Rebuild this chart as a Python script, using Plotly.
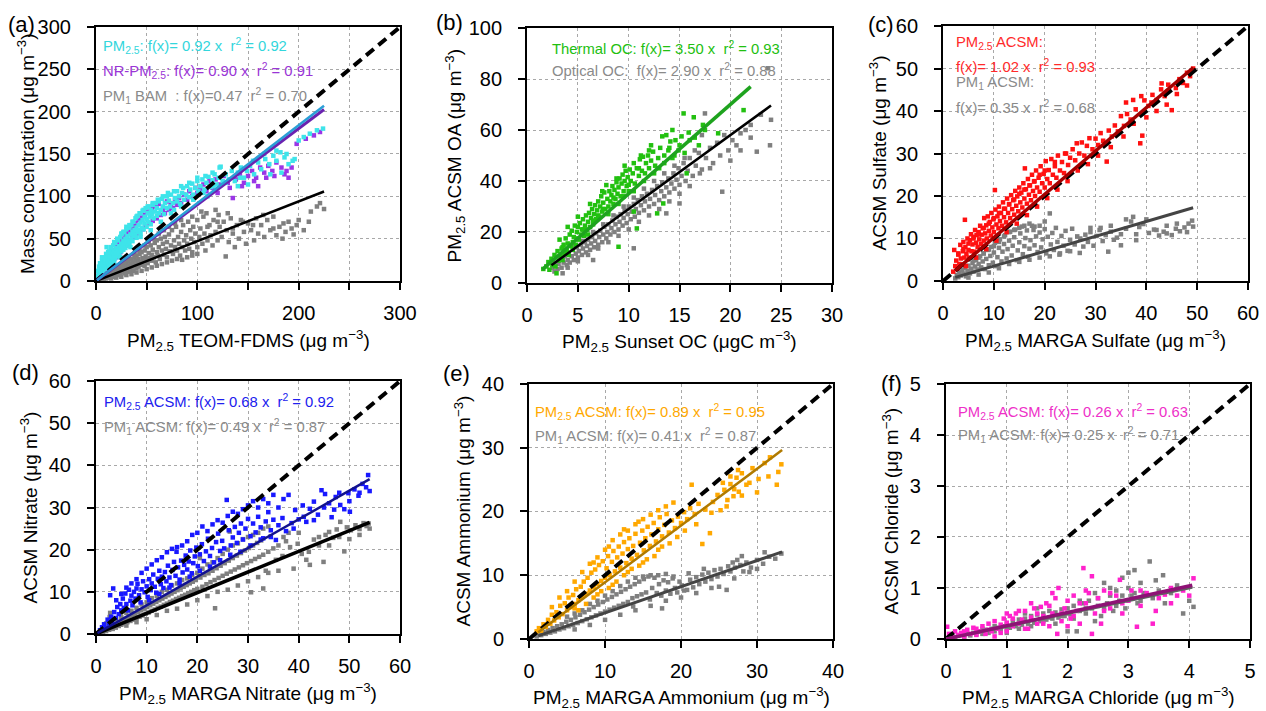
import plotly.graph_objects as go

# ---------------- DATA ----------------
# (a) Mass concentration vs PM2.5 TEOM-FDMS
A_PM25 = [(1,6),(2,12),(3,9),(3,17),(4,21),(4,13),(5,11),(5,19),(6,15),(6,24),(7,12),(7,20),(8,17),(8,27),(9,14),(9,22),
          (10,19),(10,32),(10.5,40),(11,16),(11,26),(12,22),(12,30),(13,18),(13,35),(14,25),(14,29),(15,21),(15,38),(16,28),
          (16,33),(17,24),(17,42),(18,30),(18,36),(19,27),(19,45),(20,33),(20,39),(21,29),(22,36),(22,48),(23,41),(23,32),
          (24,38),(24,52),(25,35),(25,44),(26,40),(26,56),(27,37),(27,47),(28,43),(28,58),(29,39),(29,50),(30,46),(30,61),
          (31,42),(31,53),(32,48),(33,45),(33,63),(34,55),(35,50),(35,66),(36,47),(36,58),(37,53),(37,70),(38,60),(39,55),
          (39,74),(40,51),(40,63),(41,58),(41,77),(42,66),(43,60),(43,80),(44,56),(44,69),(45,63),(46,72),(46,83),(47,61),
          (48,68),(48,76),(49,86),(50,64),(50,73),(51,80),(52,70),(52,88),(53,76),(54,67),(54,84),(55,79),(56,90),(57,74),
          (58,82),(59,92),(60,77),(60,86),(62,80),(62,94),(64,84),(65,97),(66,88),(67,79),(68,92),(70,86),(70,100),(72,95),
          (73,88),(74,102),(76,92),(77,84),(78,98),(80,94),(80,106),(82,100),(83,91),(85,104),(86,110),(87,96),(89,102),
          (90,112),(92,99),(93,108),(95,115),(96,102),(98,110),(100,118),(101,106),(103,112),(105,120),(107,108),(109,116),
          (111,123),(113,111),(115,119),(117,126),(119,114),(121,122),(123,135),(125,118),(128,126),(131,120),(134,130),
          (137,118),(140,128),(143,134),(146,122),(149,130),(152,136),(156,126),(160,140),(163,132),(167,144),(171,138),
          (175,148),(178,142),(182,152),(186,146),(190,138),(194,142),(200,166),(205,170),(211,174),(218,178),(224,180),
          (6,28),(9,27),(12,34),(15,40),(18,46),(21,50),(25,56),(27,58),(30,64),(33,66),(36,70),(40,76),(44,80),(47,84),
          (51,88),(56,92),(61,96),(66,100),(71,104),(77,106),(84,112),(92,116),(100,122),(108,124),(115,128),(122,134),
          (18,22),(24,28),(34,40),(44,52),(54,60),(64,70),(74,80),(84,88),(96,96),(106,104),(116,112),(128,116),(142,122),
          (155,142),(166,150),(178,154),(188,150),(196,144),(183,128),(172,126),(150,114),(140,112),(110,100)]
A_NRPM25 = [(2,6),(3,10),(4,8),(5,14),(6,10),(7,17),(8,13),(9,19),(10,14),(11,22),(12,17),(13,26),(14,20),(15,30),(16,23),
            (17,33),(18,26),(19,36),(20,28),(21,40),(22,31),(23,44),(24,34),(25,47),(26,37),(27,50),(28,40),(29,54),(30,42),
            (31,57),(32,45),(33,59),(34,48),(35,62),(36,51),(37,65),(38,53),(39,68),(40,56),(42,72),(43,58),(45,75),(46,61),
            (48,78),(49,64),(51,82),(53,68),(55,85),(56,71),(58,88),(60,74),(62,91),(64,78),(66,84),(68,80),(70,94),(72,84),
            (74,90),(76,86),(78,96),(80,90),(82,98),(84,92),(87,102),(90,96),(92,106),(95,100),(98,110),(100,104),(103,108),
            (106,114),(109,106),(112,118),(115,110),(118,120),(122,114),(126,124),(130,116),(135,98),(138,120),(142,126),
            (146,116),(150,124),(154,130),(158,122),(162,134),(166,128),(170,136),(174,130),(178,140),(183,134),(188,130),
            (193,134),(198,162),(207,168),(215,172),(221,176),(120,104),(132,110),(144,112),(156,118),(168,122),(176,124),
            (186,126),(190,122),(160,112)]
A_PM1BAM = [(2,1),(3,3),(4,2),(5,4),(5,1),(6,3),(7,5),(8,2),(8,6),(9,4),(10,7),(10,3),(11,5),(12,8),(12,4),(13,6),(14,10),
            (14,5),(15,8),(16,6),(16,11),(17,9),(18,5),(18,13),(19,10),(20,7),(20,15),(21,12),(22,8),(22,17),(23,11),(24,14),
            (24,7),(25,18),(26,10),(26,15),(27,20),(28,12),(28,17),(29,9),(30,22),(30,14),(31,18),(32,11),(32,24),(33,16),
            (34,20),(34,13),(35,26),(36,17),(36,22),(37,12),(38,28),(38,19),(39,24),(40,15),(40,30),(41,21),(42,26),(42,17),
            (43,32),(44,22),(45,19),(45,34),(46,27),(47,23),(48,36),(48,18),(49,29),(50,25),(50,40),(51,21),(52,33),(53,27),
            (54,42),(55,24),(55,31),(56,37),(57,28),(58,45),(59,22),(60,34),(60,48),(61,30),(62,40),(63,26),(64,50),(65,36),
            (66,44),(67,31),(68,52),(69,38),(70,28),(70,46),(72,55),(73,35),(74,42),(75,60),(76,32),(77,48),(78,40),(79,64),
            (80,36),(81,52),(82,44),(83,30),(84,58),(85,40),(86,66),(87,48),(88,36),(89,54),(90,44),(91,70),(92,38),(93,60),
            (94,50),(95,34),(96,64),(97,46),(98,56),(100,40),(100,72),(102,52),(103,62),(105,44),(106,76),(107,56),(108,36),
            (109,80),(110,48),(112,66),(113,54),(115,42),(116,72),(118,58),(120,48),(121,78),(122,64),(124,52),(126,70),
            (128,29),(129,60),(131,46),(133,74),(135,56),(137,40),(139,66),(141,50),(143,72),(146,58),(148,44),(150,68),
            (153,60),(156,48),(158,74),(160,56),(163,66),(166,52),(169,72),(172,60),(175,76),(178,54),(181,64),(184,50),
            (187,58),(190,70),(193,62),(198,66),(205,60),(212,82),(218,88),(221,92),(225,85),
            (15,3),(20,4),(25,5),(30,7),(35,8),(40,10),(45,12),(50,14),(55,16),(60,18),(65,20),(70,22),(75,24),(80,26),
            (85,25),(90,28),(95,30),(100,32),(28,22),(33,26),(38,32),(43,36),(48,42),(52,46),(57,50),(62,56),(67,60),(72,64),
            (78,68),(84,72),(95,76),(104,82),(118,84),(130,80),(110,64),(120,70),(135,62),(145,70),(155,66),(165,78),
            (175,62),(185,68),(195,55),(200,72),(210,70)]
A_SLOPES = {"PM25": 0.92, "NRPM25": 0.90, "PM1BAM": 0.47}
A_FIT_X = [1, 225]

# (b) PM2.5 ACSM OA vs Sunset OC
B_THERMAL = [(1.6,5.5),(1.9,6.5),(2.1,8.2),(2.2,5.2),(2.4,9.5),(2.5,7),(2.7,11),(2.8,6.5),(2.9,3.8),(3,12.5),(3.1,8.8),
             (3.2,17),(3.3,10.5),(3.4,13.5),(3.5,9),(3.6,15),(3.7,11.5),(3.8,17.5),(3.9,13),(4,15.5),(4.1,11),(4.2,19),
             (4.3,14.5),(4.4,20.5),(4.5,16),(4.6,18),(4.7,22.5),(4.8,15),(4.9,20),(5,22),(5.1,17),(5.2,23.5),(5.3,19),
             (5.4,21),(5.5,25),(5.6,18.5),(5.7,22.5),(5.8,26.5),(5.9,21),(6,24),(6.1,27.5),(6.2,22),(6.3,25.5),(6.4,29),
             (6.5,23),(6.6,27),(6.7,30.5),(6.8,25),(6.9,28.5),(7,32),(7.1,26),(7.2,30),(7.3,34),(7.4,28),(7.5,31.5),
             (7.6,35.5),(7.7,29),(7.8,38.4),(7.9,33),(8,30),(8.1,36),(8.2,32),(8.3,34.5),(8.4,38),(8.5,31),(8.6,36.5),
             (8.7,33),(8.8,39.5),(8.9,35),(9,14.2),(9,37.5),(9.1,41),(9.2,34),(9.3,39),(9.4,42.5),(9.5,36),(9.6,40),
             (9.7,44),(9.8,38),(9.9,41.5),(10,36),(10.1,44.5),(10.2,40),(10.4,43),(10.5,28),(10.5,47),(10.6,39),(10.8,45),
             (10.8,21.4),(11,42),(11.1,48.5),(11.3,44),(11.4,49.5),(11.6,43),(11.7,47),(11.9,50),(12,45),(12.2,48),
             (12.4,51.5),(12.6,46),(12.8,27.3),(12.9,49),(13.1,53),(13.4,31.2),(13.5,50),(13.7,58),(13.9,52),(14.1,55.5),
             (14.3,49),(14.6,56),(14.9,52),(15.2,57.5),(15.4,66.5),(15.7,43),(15.9,59),(16.4,65),(16.9,54),(17.3,62),
             (18.8,58.7),(21.3,67.8),
             (3.5,14),(4.5,13),(5,17.5),(5.5,21),(6,19),(6.5,24.5),(7,26.5),(7.5,29),(8,27),(8.5,33.5),(9,31),(9.5,34),
             (10,38.5),(10.5,36),(11,45),(11.5,40),(12,52),(12.5,43),(13,45),(13.5,47),(14,53),(14.5,50),(15,54),
             (15.5,51),(16,56),(16.5,57),(17.5,60),(6.2,31),(7.4,36),(8.8,41),(9.6,46),(11.2,50),(12.2,54),(4,22),(5,26),
             (13.3,57.5),(14.3,60)]
B_OPTICAL = [(2.5,6),(2.7,4.5),(2.8,8),(3,5.5),(3.1,7.5),(3.3,9.5),(3.4,6),(3.5,3.8),(3.6,8),(3.7,10.5),(3.9,7),(4,9),
             (4.1,12),(4.2,8),(4.4,10.5),(4.5,13),(4.6,9),(4.8,11.5),(4.9,14),(5,10),(5.1,12.5),(5.3,15),(5.4,11),(5.5,13.5),
             (5.7,16),(5.8,12),(5.9,14.5),(6,17),(6.2,13),(6.3,15.5),(6.4,18),(6.5,9),(6.6,14),(6.7,16.5),(6.8,19.5),(7,15),
             (7.1,18),(7.2,20.5),(7.4,16),(7.5,19),(7.6,22),(7.8,17.5),(7.9,20),(8,23),(8.2,19),(8.3,21.5),(8.4,24.5),
             (8.6,20),(8.7,23),(8.8,26),(9,21),(9.1,24),(9.2,27),(9.4,22.5),(9.5,25.5),(9.6,28.5),(9.8,23.5),(9.9,27),
             (10,30),(10.2,25),(10.3,28),(10.5,13.6),(10.5,31),(10.6,26),(10.7,29),(10.9,32.5),(11,27.5),(11.2,30.5),
             (11.3,34),(11.5,28.5),(11.6,32),(11.8,35),(12,30),(12.1,33),(12.3,36.5),(12.5,31),(12.6,34.5),(12.8,38),
             (13,32.5),(13.2,36),(13.3,39.5),(13.5,34),(13.7,27.3),(13.7,37.5),(13.9,41),(14,35.5),(14.2,39),(14.4,43),
             (14.5,37),(14.7,40.5),(14.9,45),(15,31.2),(15,38.5),(15.2,42),(15.4,47),(15.6,40),(15.8,44),(16,49),(16.3,42),
             (16.6,46),(16.9,51),(17.2,44.5),(17.5,66.5),(17.6,49),(18,53),(18.3,47),(18.7,55),(19.2,35.8),(19.4,58),
             (19.8,52),(20.2,56),(20.6,54),(21,58.7),(21.5,60),(22,62),(22.6,51.5),(23,66),(23.7,84.2),(23.9,54),
             (4,6),(5,8.5),(6,11),(7,13.5),(8,16),(9,18.5),(10,21),(11,24),(12,26.5),(13,29),(14,32),(15,35),(16,38),
             (4.5,14.5),(5.5,16.5),(6.5,20),(7.5,23),(8.5,26.5),(9.5,30),(10.5,33.5),(11.5,37),(12.5,40),(13.5,43),
             (14.5,46),(15.5,49),(16.5,52),(17,43),(18,45),(19,50),(20,48),(21,52),(22,57),(24,64),(17.2,58)]
B_SLOPES = {"THERMAL": 3.50, "OPTICAL": 2.90}
B_FIT_X = {"THERMAL": [1.5, 22], "OPTICAL": [2.4, 24]}

# (c) Sulfate
C_PM25 = [(2,2.2),(2.2,7.3),(2.4,3.5),(2.6,4.8),(2.8,2.9),(3,6.2),(3.2,4),(3.4,8.5),(3.5,5.3),(3.7,3.9),(3.9,7),(4,9.2),
          (4.2,5.5),(4.3,14.4),(4.4,8),(4.6,6.4),(4.8,10),(5,7.3),(5.1,5.5),(5.3,9.6),(5.5,11),(5.6,7),(5.8,8.6),(6,10.4),
          (6.1,6.9),(6.3,12),(6.5,9),(6.6,10.8),(6.8,8),(7,11.5),(7.1,9.8),(7.3,13),(7.5,8.7),(7.6,10.9),(7.8,12.4),(8,9.5),
          (8.1,14.8),(8.3,11.2),(8.5,13.1),(8.6,10),(8.8,15.2),(9,11.8),(9.2,13.9),(9.4,10.7),(9.5,16),(9.7,12.6),(9.9,14.5),
          (10,11.5),(10.2,21.4),(10.3,16.8),(10.5,13.3),(10.7,15.2),(10.9,12.4),(11,17.5),(11.2,14.1),(11.4,16),(11.6,13),
          (11.8,18.5),(12,15),(12.2,17),(12.4,13.8),(12.6,19.4),(12.8,16),(13,18.1),(13.2,14.8),(13.4,20.2),(13.6,16.9),
          (13.8,19),(14,15.6),(14.2,21.2),(14.4,17.7),(14.6,19.9),(14.8,16.4),(15,22),(15.2,18.5),(15.4,20.8),(15.6,17.3),
          (15.8,23),(16,19.4),(16.1,26.5),(16.3,21.6),(16.5,18.2),(16.7,24),(16.9,20.3),(17.1,22.5),(17.3,19),(17.5,25),
          (17.7,21.2),(17.9,23.4),(18.1,20),(18.3,26),(18.5,22),(18.8,24.3),(19,21),(19.2,27),(19.5,23),(19.8,25.2),(20,22),
          (20.2,28.2),(20.5,24),(20.8,26.1),(21,23),(21.3,28.7),(21.6,25),(22,27),(22.3,24.3),(22.6,29.5),(23,26),(23.4,28),
          (23.8,25.4),(24.2,30),(24.6,27.3),(25,29),(25.5,31),(26,28.4),(26.3,32.4),(26.8,30),(27.3,32.6),(27.8,29.5),
          (28.3,31.8),(28.8,33.6),(29.4,31),(30,33.5),(30.5,32),(31,34.8),(31.5,33),(32.2,28.1),(32.6,35.4),(33.2,34),
          (33.8,36.6),(34.4,35.2),(35,38.8),(35.6,36.5),(36.2,39.3),(36.9,38),(37.4,42.6),(37.9,40.4),(38.8,32.4),(39.2,34.2),
          (39.6,42.5),(40.4,41.2),(41.2,43.8),(42,42.6),(42.9,45.1),(43.6,43.5),(44.3,46.2),(45,40.2),(45.8,45.4),(46.5,47.5),
          (47.2,46.6),(48,49),(48.6,48.2),(49.2,50),
          (3,6.5),(4,7.5),(5,8.8),(6,10),(7,11),(8,12.5),(9,13.5),(10,14.8),(11,16),(12,17),(13,18),(14,19.2),(15,20.5),
          (16,21.5),(17,22.5),(18,23.5),(19,25),(20,26),(22,28),(24,30),(4.5,3.5),(6.5,5.5),(8.5,7.5),(10.5,9.5),
          (12.5,11.5),(14.5,13.5),(16.5,15.5),(18.5,17.5),(20.5,19.5),(22.5,21.5),(24.5,23.5),(26.5,26),(28.5,27.5),
          (30.5,29.5),(33,31.5),(35.5,34),(37.5,37),(40,38.5),(42,40),(44,41.5),(46,44),(48,46),(36,42),(39,43.5),
          (41,42),(43,46.5)]
C_PM1 = [(2.4,0.6),(2.7,1.4),(3,0.9),(3.2,2),(3.5,1.3),(3.8,2.6),(4,1.7),(4.3,3.1),(4.5,1.1),(4.8,2.4),(5,3.6),(5.3,1.8),
         (5.5,2.9),(5.8,4.2),(6,2.2),(6.3,3.4),(6.5,5),(6.8,2.7),(7,4),(7.3,5.8),(7.5,3.2),(7.8,4.6),(8,6.5),(8.2,2.8),
         (8.5,5.2),(8.8,7.3),(9,3.7),(9.3,5.9),(9.5,8),(9.8,4.3),(10,6.7),(10.2,9),(10.5,3.5),(10.7,5.6),(11,7.8),(11.2,9.8),
         (11.5,4.6),(11.7,6.9),(12,8.7),(12.2,10.8),(12.5,5.3),(12.7,7.5),(13,9.5),(13.2,11.6),(13.5,6),(13.7,8.3),(14,10.3),
         (14.2,12.1),(14.5,4.9),(14.7,7.2),(15,9.1),(15.2,11.2),(15.5,12.8),(15.7,6.3),(16,8.2),(16.2,10.1),(16.5,11.9),
         (16.7,5.7),(17,7.6),(17.2,9.6),(17.5,13),(17.8,12),(18,8.4),(18.3,10.5),(18.6,6.8),(19,11.4),(19.3,7.9),(19.6,9.8),
         (20,12.2),(20.3,6.5),(20.6,10.4),(21,15.9),(21.2,8.6),(21.5,11.3),(21.8,7.3),(22.2,12.5),(22.5,9.2),(22.9,6.2),
         (23.3,10.6),(23.7,8.3),(24.1,11.8),(24.5,7.1),(25,9.7),(25.4,12.3),(25.9,8.6),(26.4,10.5),(26.9,6.6),(27.6,8.1),
         (28,10.9),(28.5,9.2),(29,11.5),(29.6,8.3),(30.2,10.6),(30.8,12),(31.4,9.4),(32,10.8),(32.5,6.9),(33,11.6),
         (33.6,9.7),(34.2,10.2),(35,8.4),(36,12.3),(37,14),(37.4,15.1),(38,9.6),(38.6,12.7),(39.4,13.4),(40.5,11.3),
         (41.5,12.1),(42.5,10.7),(43.4,11.6),(44,11.2),(45,10.8),(45.8,12.3),(46.6,11.7),(47.5,12.6),(48.3,13.5),(49,14.2),
         (49.2,12.8),
         (6,4.8),(7,5.5),(8,6.5),(9,7.4),(10,8.2),(11,9.2),(12,10.5),(13,11.5),(14,12),(15,12.5),(16,13),(17,13.5),
         (18,12.8),(19,13),(20,14),(5,0.8),(7,1.5),(9,2),(11,3),(13,4),(15,4.5),(17,5),(19,5.5),(21,5.8),(23,6.5),(25,7),
         (27,10),(29,12.5),(31,12.5),(33,13),(35,11),(36,14.5),(38,11),(40,14.5),(42,12),(44,13),(46,13.5),(48,11.5)]
C_SLOPES = {"PM25": 1.02, "PM1": 0.35}
C_FIT_X = [2.4, 49.2]

# (d) Nitrate
D_PM25 = [(0.8,0.9),(1.2,1.6),(1.6,2.3),(2,1.5),(2.3,3.4),(2.6,2.5),(2.8,9.2),(3,4.1),(3.2,3),(3.4,10.8),(3.6,5.2),(3.9,3.8),
          (4.2,6.4),(4.5,4.7),(4.8,7.1),(5,5.6),(5.3,8.4),(5.5,6.2),(5.8,9.6),(6,7.1),(6.3,5.6),(6.5,10.5),(6.8,7.9),(7,9.1),
          (7.2,6.8),(7.5,10),(7.8,8.4),(8,10.8),(8.2,11.9),(8.5,9.2),(8.8,7.5),(9,10.6),(9.3,12.5),(9.6,9.9),(10,11.3),
          (10.2,8.8),(10.5,13),(10.8,10.4),(11,12),(11.3,14.1),(11.6,11.2),(11.9,9.8),(12.2,13.1),(12.5,15),(12.8,11.8),
          (13,13.6),(13.3,10.9),(13.6,14.7),(13.9,12.5),(14.2,16.2),(14.5,13.4),(14.8,11.6),(15.1,15.2),(15.4,17.1),
          (15.7,13.8),(15.9,19.5),(16.2,15.8),(16.5,12.9),(16.8,17.4),(17.1,14.6),(17.4,16.4),(17.7,18.6),(18,15.3),
          (18.3,17.2),(18.6,19.8),(18.9,14.4),(19.2,16.8),(19.5,18.4),(19.8,20.5),(20.1,16.1),(20.5,18.9),(20.9,21.3),
          (21.3,17.3),(21.7,19.6),(22.1,22.6),(22.5,18.5),(22.9,20.4),(23.3,17),(23.7,21.8),(24.1,23.8),(24.5,19.7),
          (24.9,22.1),(25.3,20.3),(25.8,31.8),(26.2,24.6),(26.6,21),(27,22.9),(27.4,25.4),(27.8,21.6),(28.2,24),(28.6,26.2),
          (29,22.4),(29.5,25),(30,27.3),(30.5,23.2),(31,26.2),(31.5,24.1),(32,27.8),(32.5,25.3),(33,22.7),(33.5,26.7),
          (34,28.9),(34.5,24.6),(35,27.1),(35.5,22.3),(36,25.8),(36.8,27.5),(37.5,24.4),(38,33),(38.6,26.3),(39.3,29.4),
          (40,27.2),(40.8,30.5),(41.5,26.6),(42.2,29.7),(43,31.4),(43.8,28.3),(44.5,34.1),(45.2,33.2),(46,31),(46.5,27.7),
          (47.3,32.5),(48.2,30.6),(49,29.6),(49.8,33.4),(50.1,29),(51,34.3),(51.8,32.8),(52.6,35.6),(53.3,34.8),(53.7,37.7),
          (54,33.9),
          (4,8),(5,9.5),(6,11),(7,12),(8,13),(9,14.5),(10,15.5),(11,16.5),(12,17.5),(13,18.2),(14,19.4),(15,20.2),(16,20.6),
          (17,21),(18,22),(19,23.5),(20,24),(21,25.5),(22,24.4),(23,26),(24,27),(25,26.4),(26,28),(27,29),(28,28.5),
          (29,29.6),(30,30.5),(31,31.5),(32,30),(33,32),(34,31),(35,33),(36,30),(37,32),(10.5,8),(12.5,9.5),(14.5,11),
          (16.5,12),(18.5,13.6),(20.5,15),(22.5,16),(24.5,17.5),(26.5,18.8),(28.5,19.5),(30.5,21),(32.5,22.4),(34.5,23),
          (39,25),(41,27.8),(43,27),(45,30),(47,29.5),(48,33.5),(50,31.5),(52,33.5)]
D_PM1 = [(0.8,0.3),(1.1,0.7),(1.4,0.5),(1.7,1),(2,0.7),(2.3,1.3),(2.6,1),(2.7,4),(2.8,5),(3,1.6),(3.3,1.2),(3.6,2),(3.9,1.5),
         (4.2,2.4),(4.5,1.9),(4.8,2.8),(5,2.2),(5.3,3.2),(5.6,2.5),(5.9,3.6),(6.2,2.8),(6.5,4),(6.8,3.1),(7.1,4.4),(7.4,3.4),
         (7.7,4.8),(8,3.8),(8.3,5.2),(8.6,4.1),(8.9,5.6),(9.2,4.4),(9.5,6),(9.8,4.8),(10.1,6.4),(10.4,5.1),(10.7,6.8),(11,5.5),
         (11.3,7.2),(11.6,5.8),(11.9,7.6),(12.2,6.2),(12.5,8),(12.8,6.5),(13.1,8.4),(13.4,6.9),(13.7,8.8),(14,7.2),(14.3,9.2),
         (14.6,7.6),(14.9,9.6),(15.2,7.9),(15.5,10),(15.8,8.3),(16.1,10.4),(16.4,8.6),(16.7,10.8),(17,9),(17.3,11.2),
         (17.6,9.3),(17.9,11.6),(18.2,9.7),(18.5,12),(18.8,10),(19.1,12.4),(19.4,10.4),(19.7,12.8),(20,10.7),(20.5,18),
         (20.6,13.4),(21,11.2),(21.4,14),(21.8,11.8),(22.2,14.4),(22.6,12.3),(23,15),(23.5,6.1),(23.4,12.8),(23.8,15.6),
         (24.2,13.3),(24.6,16.2),(25,13.8),(25.4,16.8),(25.8,14.3),(26.2,17.4),(26.4,24.3),(26.6,14.8),(27,18),(27.4,15.3),
         (27.8,18.6),(28.2,15.8),(28.6,19.2),(29,16.3),(29.4,19.8),(29.8,16.8),(30.2,20.4),(30.6,9.9),(30.6,17.3),(31,21),
         (31.4,17.8),(31.8,21.6),(32.2,18.3),(32.6,22.2),(33,10.8),(33,18.8),(33.5,15),(34,19.5),(34.5,23.2),(35,20.3),
         (35.5,17.6),(36,21),(36.8,18.5),(37.5,22),(38.3,20.6),(39,15.5),(39.8,21.4),(40.6,19),(41.5,17.6),(42.2,16.4),
         (43,22.4),(44,23),(44.9,17.1),(45.3,23.5),(46,24.2),(46.8,22.8),(47.5,24.8),(48.2,26.6),(49,19.6),(49.5,25.3),
         (50.3,24.6),(51.2,25.8),(52,24.9),(52.8,26.3),(53.4,25.6),(53.8,26.2),
         (2,2.5),(3,3),(4,3.5),(5,4),(6,5),(7,5.5),(8,6.2),(9,7),(10,7.5),(11,8.5),(12,9),(13,10),(14,10.5),(15,11.5),
         (16,12),(17,12.8),(18,13.2),(19,14),(20,14.5),(21,15.5),(22,16.5),(23,17),(24,18),(25,19),(26,20),(27,21),
         (28,21.5),(29,22.5),(30,23),(31,23.5),(32,24),(33,25),(34,25.5),(6,2),(8,2.8),(10,3.5),(12,4.5),(14,5.5),(16,6),
         (18,7),(20,8),(22,9),(24,10),(26,10.5),(28,11.5),(30,12.5),(32,13.5),(34,14.5),(36,15),(37,23),(38,24),(40,24),
         (42,19.5),(44,21),(46,21),(48,23),(50,22.5),(52,23.5),(54,25)]
D_SLOPES = {"PM25": 0.68, "PM1": 0.49}
D_FIT_X = [0.3, 54]

# (e) Ammonium
E_PM25 = [(1,1.2),(1.3,1.7),(1.6,1.3),(1.9,2.3),(2.2,1.9),(2.5,3),(2.8,2.4),(3,3.8),(3.3,2.9),(3.6,4.2),(3.9,3.4),(4.1,5.2),
          (4.4,3.9),(4.7,5.6),(5,4.5),(5.2,6.5),(5.5,5),(5.8,6.9),(6,5.5),(6,4.8),(6.2,7.8),(6.5,6.1),(6.8,8.2),(7,6.6),(7.2,9),
          (7.5,7.1),(7.7,9.6),(8,7.6),(8.2,10.4),(8.5,8.1),(8.5,12),(8.7,10.9),(9,8.6),(9,7),(9.2,11.6),(9.5,9.1),(9.7,12.2),
          (10,9.6),(10.2,11.1),(10.4,13),(10.5,14.5),(10.6,10),(10.9,12.1),(11,8.5),(11.1,13.8),(11.3,10.6),(11.6,12.8),
          (11.8,14.5),(12,11.2),(12.3,13.4),(12.5,15.2),(12.5,17.2),(12.8,11.9),(13,14.1),(13,10.5),(13.2,15.8),(13.5,12.6),
          (13.7,14.6),(14,16.5),(14.2,13.2),(14.4,18.4),(14.6,15.1),(14.9,17),(15,12),(15.1,13.9),(15.3,15.8),(15.6,17.6),
          (15.9,14.6),(16.1,16.4),(16.4,18.2),(16.7,15.3),(17,17.2),(17,14),(17.2,19.1),(17.5,16.1),(17.8,17.9),(18.1,19.6),
          (18.4,16.7),(18.8,18.6),(19.2,17.4),(19.6,19.2),(20,18.2),(20.4,19.9),(20.8,18.8),(21.2,20.5),(21.4,24.2),
          (21.8,19.6),(22.3,21.2),(22.8,14.9),(23.2,20.3),(23.8,16.6),(24.2,21.5),(24.8,22.6),(25.2,20.2),(25.7,23.4),
          (26.1,21.8),(26.5,24.3),(26.9,22.4),(27.3,25.3),(27.6,23.1),(28,26),(28.6,24.2),(29.4,26.8),(30.2,25.1),(31,27.6),
          (31.7,28.5),(32.6,24.2),(32.8,26.2),(33.2,27.4),
          (3,5),(4,6.5),(5,7.5),(6,9),(7,10.5),(8,11.8),(9,12.8),(10,14),(11,15.5),(12,16.4),(13,17),(14,18),(15,18.8),
          (16,19.5),(17,20.2),(18,20.8),(19,21.4),(6.5,4.5),(7.5,5.5),(8.5,6.5),(9.5,7.5),(10.5,8),(11.5,9),(12.5,10),
          (13.5,11),(14.5,11.5),(15.5,12.5),(16.5,13),(17.5,14.5),(18.5,15),(19.5,16),(20.5,17),(22,18),(24,19.8),(26,20.8),
          (27,23.5),(28,22.5),(29,24.5),(30,23),(31.5,25.5),(26.5,25.5),(27.5,26.5),(25.5,24.5)]
E_PM1 = [(1,0.4),(1.3,0.8),(1.6,0.6),(1.9,1.1),(2.2,0.8),(2.5,1.4),(2.8,1),(3.1,1.7),(3.4,1.2),(3.7,2),(4,1.5),(4.3,2.3),
         (4.6,1.7),(4.9,2.7),(5.2,2),(5.5,3),(5.8,2.2),(6.1,3.4),(6.4,2.5),(6.7,3.8),(7,2.8),(7.3,4.2),(7.6,3.1),(7.9,4.6),
         (8.2,3.4),(8.5,5),(8.8,3.7),(9.1,5.4),(9.4,4),(9.7,5.8),(10,4.3),(10.3,6.2),(10.6,4.6),(10.9,6.6),(11.2,4.9),(11.5,7),
         (11.8,5.2),(12.1,7.4),(12.4,5.5),(12.7,7.8),(13,5.8),(13.3,8.2),(13.7,5.1),(13.6,6.4),(13.9,8.6),(14.2,6.7),(14.5,9),
         (14.8,7),(15.1,9.4),(15.4,7.3),(15.7,9.8),(15.9,6.2),(16.2,8),(16.5,9.6),(16.8,7.2),(17.1,8.6),(17.4,6.8),(17.7,9.2),
         (18,7.6),(18.3,8.9),(18.6,7.1),(18.9,9.5),(19.2,8),(19.5,7.3),(19.8,9),(20.1,8.4),(20.4,7.6),(20.8,7.7),(21.2,9.3),
         (21.6,8.1),(22,9.7),(22.4,8.6),(22.8,10.1),(23.2,9),(23.6,10.4),(24,9.4),(24.4,10.8),(24.8,9.8),(25.2,11),(25.6,10.2),
         (26,7.7),(26.2,11.4),(26.5,10.6),(26.8,12),(27.1,11.2),(27.4,12.4),(27.8,11.6),(28.2,10.6),(28.6,12),(29.2,11.2),
         (30,12.4),(30.8,11.8),(31.6,12.9),(32.4,12.6),(33.2,13.4),
         (5,3.5),(6,4),(7,4.5),(8,5.5),(9,6),(10,6.8),(11,7.5),(12,8.3),(13,9),(14,9.6),(15,9.8),(16,10),(17,10),(18,10.2),
         (6,1.5),(8,2.2),(10,3),(12,3.8),(14,4.5),(16,5.2),(18,6),(20,6.5),(22,7.2),(24,8),(17.5,4.8),(19,9.8),(21,10.3),
         (23,11),(25,8.2),(27,9.5),(29,10.5),(30,11),(31,13.6),(28,13)]
E_SLOPES = {"PM25": 0.89, "PM1": 0.41}
E_FIT_X = [1.2, 33.3]

# (f) Chloride
F_PM25 = [(0.02,0.24),(0.05,0.1),(0.1,0.05),(0.15,0.15),(0.2,0.08),(0.25,0.12),(0.3,0.05),(0.3,0.15),(0.35,0.18),(0.4,0.1),
          (0.45,0.22),(0.5,0.08),(0.5,0.2),(0.55,0.15),(0.6,0.25),(0.65,0.1),(0.7,0.3),(0.7,0.18),(0.75,0.15),(0.8,0.35),
          (0.8,0.05),(0.85,0.2),(0.9,0.28),(0.9,0.12),(0.95,0.4),(1,0.15),(1,0.32),(1,0.5),(1.05,0.45),(1.1,0.25),(1.1,0.4),
          (1.15,0.5),(1.2,0.3),(1.2,0.55),(1.25,0.38),(1.3,0.55),(1.3,0.2),(1.35,0.2),(1.4,0.42),(1.4,0.7),(1.45,0.6),
          (1.5,0.3),(1.5,0.5),(1.56,0.63),(1.6,0.45),(1.6,0.3),(1.65,0.7),(1.7,0.25),(1.7,0.65),(1.75,0.5),(1.75,0.9),
          (1.8,0.8),(1.83,0.1),(1.85,1.0),(1.9,0.35),(1.9,0.5),(1.95,0.6),(2,0.75),(2,0.25),(2.05,0.4),(2.1,0.85),(2.1,0.45),
          (2.15,0.55),(2.2,0.3),(2.2,0.7),(2.26,1.39),(2.3,0.7),(2.3,0.95),(2.35,0.9),(2.4,1.23),(2.4,0.1),(2.45,0.5),
          (2.5,0.8),(2.55,0.3),(2.6,0.95),(2.6,0.55),(2.7,0.6),(2.7,0.9),(2.8,0.85),(2.86,1.16),(2.9,0.5),(2.9,0.7),(3,0.75),
          (3.05,0.95),(3.14,0.24),(3.2,0.65),(3.2,0.95),(3.3,0.9),(3.4,0.3),(3.45,0.55),(3.5,0.8),(3.6,0.87),(3.7,1.0),
          (3.7,0.7),(3.8,0.85),(3.9,0.95),(4.0,0.85),(4.07,1.19)]
F_PM1 = [(0.05,0.02),(0.1,0.05),(0.15,0.03),(0.2,0.06),(0.25,0.08),(0.3,0.04),(0.35,0.1),(0.4,0.07),(0.45,0.12),(0.5,0.09),
         (0.55,0.15),(0.6,0.1),(0.6,0.2),(0.65,0.18),(0.7,0.12),(0.75,0.2),(0.8,0.15),(0.8,0.25),(0.85,0.22),(0.9,0.17),
         (0.95,0.25),(1,0.2),(1,0.3),(1,0.12),(1.05,0.22),(1.1,0.35),(1.15,0.25),(1.2,0.38),(1.2,0.2),(1.25,0.28),(1.3,0.4),
         (1.3,0.5),(1.35,0.3),(1.4,0.45),(1.4,0.25),(1.45,0.32),(1.5,0.48),(1.5,0.6),(1.55,0.35),(1.6,0.5),(1.6,0.35),
         (1.65,0.38),(1.7,0.55),(1.7,0.42),(1.75,0.4),(1.8,0.52),(1.8,0.3),(1.85,0.42),(1.9,0.58),(1.9,0.45),(1.95,0.45),
         (2,0.6),(2,0.5),(2,0.15),(2.05,0.48),(2.1,0.65),(2.1,0.4),(2.15,0.15),(2.2,0.55),(2.2,0.75),(2.25,0.7),(2.3,0.5),
         (2.3,0.6),(2.35,0.75),(2.4,0.6),(2.45,0.9),(2.45,0.35),(2.5,0.65),(2.5,0.8),(2.55,0.45),(2.6,1.1),(2.6,0.6),
         (2.65,0.7),(2.7,0.85),(2.7,1.0),(2.75,0.55),(2.8,0.95),(2.8,0.65),(2.85,0.75),(2.9,1.2),(2.9,0.85),(2.95,0.6),
         (3,1.3),(3,1.0),(3.05,0.85),(3.1,1.35),(3.1,0.9),(3.15,0.7),(3.2,1.1),(3.2,0.75),(3.25,0.9),(3.35,1.52),(3.4,0.8),
         (3.45,1.15),(3.5,0.95),(3.57,1.25),(3.6,0.7),(3.7,0.9),(3.8,1.05),(3.9,0.5),(4.0,0.75),(4.07,0.63)]
F_SLOPES = {"PM25": 0.26, "PM1": 0.25}
F_FIT_X = [0.0, 4.05]

AXIS_MAX = [300, 30, 60, 60, 40, 5]
AXIS_MAX_Y = [300, 100, 60, 60, 40, 5]

# ---------------- STYLE ----------------
FONT = "Arial, 'Liberation Sans', sans-serif"
GRAY_PT = "#7f7f7f"

DOMAINS = [
    (0.0758, 0.3160, 0.6048, 0.9620),
    (0.4163, 0.6572, 0.6020, 0.9606),
    (0.7449, 0.9858, 0.6048, 0.9634),
    (0.0758, 0.3160, 0.1083, 0.4641),
    (0.4179, 0.6580, 0.1013, 0.4599),
    (0.7472, 0.9874, 0.1013, 0.4599),
]
X_TICKS = [list(range(0, 301, 50)), list(range(0, 31, 5)), list(range(0, 61, 10)),
           list(range(0, 61, 10)), list(range(0, 41, 10)), list(range(0, 6, 1))]
Y_TICKS = [list(range(0, 301, 50)), list(range(0, 101, 20)), list(range(0, 61, 10)),
           list(range(0, 61, 10)), list(range(0, 41, 10)), list(range(0, 6, 1))]
X_TEXT = [["0", "", "100", "", "200", "", "300"], None, None, None, None, None]

X_TITLES = ["PM<sub>2.5</sub> TEOM-FDMS (μg m<sup>−3</sup>)", "PM<sub>2.5</sub> Sunset OC (μgC m<sup>−3</sup>)",
            "PM<sub>2.5</sub> MARGA Sulfate (μg m<sup>−3</sup>)", "PM<sub>2.5</sub> MARGA Nitrate (μg m<sup>−3</sup>)",
            "PM<sub>2.5</sub> MARGA Ammonium (μg m<sup>−3</sup>)", "PM<sub>2.5</sub> MARGA Chloride (μg m<sup>−3</sup>)"]
Y_TITLES = ["Mass concentration (μg m<sup>−3</sup>)", "PM<sub>2.5</sub> ACSM OA (μg m<sup>−3</sup>)",
            "ACSM Sulfate (μg m<sup>−3</sup>)", "ACSM Nitrate (μg m<sup>−3</sup>)",
            "ACSM Ammonium (μg m<sup>−3</sup>)", "ACSM Chloride (μg m<sup>−3</sup>)"]
PANEL_LABELS = ["(a)", "(b)", "(c)", "(d)", "(e)", "(f)"]

fig = go.Figure()


def ax(i):
    return ("x" if i == 0 else f"x{i+1}"), ("y" if i == 0 else f"y{i+1}")


def scatter(i, pts, color):
    xa, ya = ax(i)
    fig.add_trace(go.Scatter(x=[p[0] for p in pts], y=[p[1] for p in pts], mode="markers",
                             marker=dict(symbol="square", size=4.5, color=color, line=dict(width=0)),
                             xaxis=xa, yaxis=ya, showlegend=False, hoverinfo="x+y"))


def fit(i, xr, slope, color, width):
    xa, ya = ax(i)
    fig.add_trace(go.Scatter(x=[xr[0], xr[1]], y=[slope * xr[0], slope * xr[1]], mode="lines",
                             line=dict(color=color, width=width), xaxis=xa, yaxis=ya,
                             showlegend=False, hoverinfo="skip"))


def one_to_one(i):
    xa, ya = ax(i)
    m = AXIS_MAX[i]
    fig.add_trace(go.Scatter(x=[0, m], y=[0, m], mode="lines",
                             line=dict(color="black", width=4, dash="10px,6px"),
                             xaxis=xa, yaxis=ya, showlegend=False, hoverinfo="skip"))


# (a)
scatter(0, A_PM1BAM, GRAY_PT)
scatter(0, A_NRPM25, "#9a35e6")
scatter(0, A_PM25, "#3ee4ea")
fit(0, A_FIT_X, A_SLOPES["PM1BAM"], "black", 2.5)
one_to_one(0)
fit(0, A_FIT_X, A_SLOPES["NRPM25"], "#6a22b0", 3)
fit(0, A_FIT_X, A_SLOPES["PM25"], "#2a9ed6", 2.5)
# (b)
scatter(1, B_OPTICAL, GRAY_PT)
scatter(1, B_THERMAL, "#22c010")
fit(1, B_FIT_X["THERMAL"], B_SLOPES["THERMAL"], "#1ea31e", 3.5)
fit(1, B_FIT_X["OPTICAL"], B_SLOPES["OPTICAL"], "black", 2.5)
# (c)
scatter(2, C_PM1, GRAY_PT)
scatter(2, C_PM25, "#ff1010")
one_to_one(2)
fit(2, C_FIT_X, C_SLOPES["PM1"], "#444444", 3)
fit(2, C_FIT_X, C_SLOPES["PM25"], "#a30000", 3.5)
# (d)
scatter(3, D_PM1, GRAY_PT)
scatter(3, D_PM25, "#1818ff")
one_to_one(3)
fit(3, D_FIT_X, D_SLOPES["PM1"], "black", 3.5)
fit(3, D_FIT_X, D_SLOPES["PM25"], "#12128e", 2.5)
# (e)
scatter(4, E_PM1, GRAY_PT)
scatter(4, E_PM25, "#ffa800")
one_to_one(4)
fit(4, E_FIT_X, E_SLOPES["PM1"], "#444444", 3)
fit(4, E_FIT_X, E_SLOPES["PM25"], "#b07a00", 2.5)
# (f)
scatter(5, F_PM1, GRAY_PT)
scatter(5, F_PM25, "#ff22cc")
one_to_one(5)
fit(5, F_FIT_X, F_SLOPES["PM1"], "#606060", 3)
fit(5, F_FIT_X, F_SLOPES["PM25"], "#8e1275", 3.5)

layout = dict(width=1266, height=711, margin=dict(l=0, r=0, t=0, b=0),
              paper_bgcolor="white", plot_bgcolor="white", showlegend=False,
              font=dict(family=FONT, color="black"))
annotations = []
for i in range(6):
    x0, x1, y0, y1 = DOMAINS[i]
    xk = "xaxis" if i == 0 else f"xaxis{i+1}"
    yk = "yaxis" if i == 0 else f"yaxis{i+1}"
    xa, ya = ax(i)
    common = dict(showline=True, linecolor="black", linewidth=2, mirror=True,
                  ticks="outside", ticklen=7, tickwidth=2, tickcolor="black",
                  showgrid=True, gridcolor="#a8a8a8", griddash="dot", gridwidth=1,
                  zeroline=False, tickfont=dict(size=20, family=FONT, color="black"),
                  automargin=False)
    xd = dict(common, domain=[x0, x1], anchor=ya, range=[0, AXIS_MAX[i]],
              tickmode="array", tickvals=X_TICKS[i], ticklabelstandoff=6)
    if X_TEXT[i] is not None:
        xd["ticktext"] = X_TEXT[i]
    yd = dict(common, domain=[y0, y1], anchor=xa, range=[0, AXIS_MAX_Y[i]],
              tickmode="array", tickvals=Y_TICKS[i], ticklabelstandoff=12)
    layout[xk] = xd
    layout[yk] = yd
    annotations.append(dict(xref="paper", yref="paper", x=(x0 + x1) / 2, y=y0 - 0.083,
                            text=X_TITLES[i], showarrow=False, xanchor="center", yanchor="middle",
                            font=dict(size=19, family=FONT, color="black")))

Y_TITLE_X = [26, 455, 878, 29, 463, 891]
PANEL_LABEL_POS = [(21, 24), (449, 23), (881, 25), (25, 372), (456, 373), (891, 384)]
for i in range(6):
    x0, x1, y0, y1 = DOMAINS[i]
    annotations.append(dict(xref="paper", yref="paper", x=Y_TITLE_X[i] / 1266, y=(y0 + y1) / 2,
                            text=Y_TITLES[i], showarrow=False, textangle=-90,
                            xanchor="center", yanchor="middle",
                            font=dict(size=19, family=FONT, color="black")))
    px, py = PANEL_LABEL_POS[i]
    annotations.append(dict(xref="paper", yref="paper", x=px / 1266, y=1 - py / 711,
                            text=PANEL_LABELS[i], showarrow=False, xanchor="center", yanchor="middle",
                            font=dict(size=22, family=FONT, color="black")))

STAT_TEXT = [
    (0, 5, 277, "PM<sub>2.5</sub>: f(x)= 0.92 x  r<sup>2</sup> = 0.92", "#33d6dc"),
    (0, 5, 248, "NR-PM<sub>2.5</sub>: f(x)= 0.90 x  r<sup>2</sup> = 0.91", "#9a35d6"),
    (0, 5, 219, "PM<sub>1</sub> BAM  : f(x)=0.47  r<sup>2</sup> = 0.70", "#8a8a8a"),
    (1, 2.3, 92, "Thermal OC: f(x)= 3.50 x  r<sup>2</sup> = 0.93", "#22c010"),
    (1, 2.3, 83.5, "Optical OC:  f(x)= 2.90 x  r<sup>2</sup> = 0.88", "#8a8a8a"),
    (2, 2.2, 56, "PM<sub>2.5</sub> ACSM:", "#ff2a2a"),
    (2, 2.2, 50.5, "f(x)= 1.02 x  r<sup>2</sup> = 0.93", "#ff2a2a"),
    (2, 2.2, 46.5, "PM<sub>1</sub> ACSM:", "#8a8a8a"),
    (2, 2.2, 41, "f(x)= 0.35 x  r<sup>2</sup> = 0.68", "#8a8a8a"),
    (3, 1.1, 55, "PM<sub>2.5</sub> ACSM: f(x)= 0.68 x  r<sup>2</sup> = 0.92", "#2020ee"),
    (3, 1.1, 49, "PM<sub>1</sub> ACSM: f(x)= 0.49 x  r<sup>2</sup> = 0.87", "#8a8a8a"),
    (4, 0.5, 35.6, "PM<sub>2.5</sub> ACSM: f(x)= 0.89 x  r<sup>2</sup> = 0.95", "#ffa800"),
    (4, 0.5, 31.8, "PM<sub>1</sub> ACSM: f(x)= 0.41 x  r<sup>2</sup> = 0.87", "#8a8a8a"),
    (5, 0.16, 4.46, "PM<sub>2.5</sub> ACSM: f(x)= 0.26 x  r<sup>2</sup> = 0.63", "#ee30c8"),
    (5, 0.16, 4.0, "PM<sub>1</sub> ACSM: f(x)= 0.25 x  r<sup>2</sup> = 0.71", "#8a8a8a"),
]
for i, x, y, t, c in STAT_TEXT:
    xa, ya = ax(i)
    annotations.append(dict(xref=xa, yref=ya, x=x, y=y, text=t, showarrow=False,
                            xanchor="left", yanchor="middle",
                            font=dict(size=14.8, family=FONT, color=c)))

layout["annotations"] = annotations
fig.update_layout(**layout)
fig.write_html("out.html", config={"displayModeBar": False},
               post_script="document.body.style.margin='0px';")
